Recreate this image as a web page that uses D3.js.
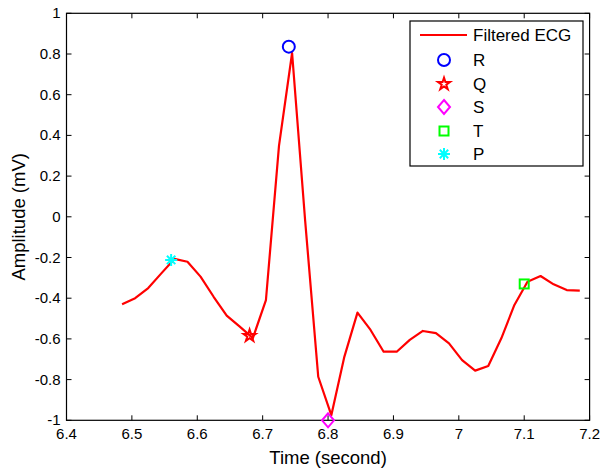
<!DOCTYPE html>
<html lang="en">
<head>
    <meta charset="UTF-8">
    <title>ECG</title>
    <script src="https://d3js.org/d3.v7.min.js"></script>
    <style>
        body { margin: 0; background: #fff; }
        svg text { font-family: Arial, "Liberation Sans", sans-serif; fill: #000; }
    </style>
</head>
<body>
<svg id="canvas" width="600" height="469"></svg>
<script>
    // filtered ECG samples (step 0.02 s)
    let t0 = 6.485;
    let ecgValues = [-0.43, -0.40, -0.35, -0.278, -0.207, -0.221, -0.294, -0.393, -0.486, -0.54,
        -0.596, -0.409, 0.35, 0.805, -0.02, -0.786, -0.975, -0.687, -0.471, -0.556,
        -0.663, -0.663, -0.605, -0.561, -0.572, -0.622, -0.704, -0.756, -0.733, -0.597,
        -0.433, -0.319, -0.291, -0.332, -0.36, -0.363];

    // detected waves
    let waveNames = ["R", "Q", "S", "T", "P"];
    let waveTimes = [6.74, 6.68, 6.80, 7.10, 6.56];
    let waveValues = [0.836, -0.585, -1.0, -0.33, -0.212];
    let waveColors = ["#0000ff", "#ff0000", "#ff00ff", "#00ff00", "#00ffff"];

    let xTicks = [6.4, 6.5, 6.6, 6.7, 6.8, 6.9, 7.0, 7.1, 7.2];
    let yTicks = [-1, -0.8, -0.6, -0.4, -0.2, 0, 0.2, 0.4, 0.6, 0.8, 1];

    let svg = d3.select('#canvas');
    let plotL = 66.5, plotR = 589.6, plotT = 13.3, plotB = 420.3;

    let x = d3.scaleLinear().domain([6.4, 7.2]).range([plotL, plotR]);
    let y = d3.scaleLinear().domain([-1, 1]).range([plotB, plotT]);

    let ecg = ecgValues.map(function (v, i) { return {t: t0 + 0.02 * i, v: v}; });

    // frame
    svg.append('rect')
        .attr('x', plotL).attr('y', plotT)
        .attr('width', plotR - plotL).attr('height', plotB - plotT)
        .attr('fill', 'none').attr('stroke', '#000').attr('stroke-width', 1.2);

    // ticks pointing inward, on all four sides
    let tickLen = 5;
    let fmt = function (d) { return String(+d.toFixed(1)); };
    let g = svg.append('g');
    xTicks.forEach(function (d) {
        g.append('line').attr('x1', x(d)).attr('x2', x(d)).attr('y1', plotB).attr('y2', plotB - tickLen).attr('stroke', '#000');
        g.append('line').attr('x1', x(d)).attr('x2', x(d)).attr('y1', plotT).attr('y2', plotT + tickLen).attr('stroke', '#000');
        g.append('text').attr('x', x(d)).attr('y', plotB + 19)
            .attr('text-anchor', 'middle').style('font-size', '15px').text(fmt(d));
    });
    yTicks.forEach(function (d) {
        g.append('line').attr('x1', plotL).attr('x2', plotL + tickLen).attr('y1', y(d)).attr('y2', y(d)).attr('stroke', '#000');
        g.append('line').attr('x1', plotR).attr('x2', plotR - tickLen).attr('y1', y(d)).attr('y2', y(d)).attr('stroke', '#000');
        g.append('text').attr('x', plotL - 6).attr('y', y(d) + 5)
            .attr('text-anchor', 'end').style('font-size', '15px').text(fmt(d));
    });

    svg.append('text').attr('x', (plotL + plotR) / 2).attr('y', 464)
        .attr('text-anchor', 'middle').style('font-size', '18.5px').text('Time (second)');
    svg.append('text')
        .attr('transform', 'translate(25,' + ((plotT + plotB) / 2) + ') rotate(-90)')
        .attr('text-anchor', 'middle').style('font-size', '18.5px').text('Amplitude (mV)');

    // signal
    let line = d3.line().x(function (d) { return x(d.t); }).y(function (d) { return y(d.v); });
    svg.append('path').datum(ecg)
        .attr('d', line)
        .attr('fill', 'none').attr('stroke', '#ff0000').attr('stroke-width', 2.2)
        .attr('stroke-linejoin', 'round');

    // marker shapes, matlab style
    function drawMarker(sel, name, cx, cy, color) {
        let m = sel.append('g').attr('transform', 'translate(' + cx + ',' + cy + ')');
        if (name === 'R') {
            m.append('circle').attr('r', 6).attr('fill', 'none').attr('stroke', color).attr('stroke-width', 2);
        } else if (name === 'Q') {
            m.append('path').attr('d', d3.symbol(d3.symbolStar, 45)())
                .attr('fill', 'none').attr('stroke', color).attr('stroke-width', 2);
        } else if (name === 'S') {
            m.append('path').attr('d', 'M0,-7L6,0L0,7L-6,0Z')
                .attr('fill', 'none').attr('stroke', color).attr('stroke-width', 2);
        } else if (name === 'T') {
            m.append('rect').attr('x', -4.5).attr('y', -4.5).attr('width', 9).attr('height', 9)
                .attr('fill', 'none').attr('stroke', color).attr('stroke-width', 2);
        } else {
            m.append('path').attr('d', 'M-6,0H6M0,-6V6M-4.2,-4.2L4.2,4.2M-4.2,4.2L4.2,-4.2')
                .attr('fill', 'none').attr('stroke', color).attr('stroke-width', 2);
        }
    }

    waveNames.forEach(function (n, i) {
        drawMarker(svg, n, x(waveTimes[i]), y(waveValues[i]), waveColors[i]);
    });

    // legend
    let lx = 410, ly = 21, lw = 173, lh = 145;
    let leg = svg.append('g');
    leg.append('rect').attr('x', lx).attr('y', ly).attr('width', lw).attr('height', lh)
        .attr('fill', '#fff').attr('stroke', '#000').attr('stroke-width', 1.2);
    let rowY = [35, 60, 84, 107, 131, 154];
    leg.append('line').attr('x1', 420).attr('x2', 467).attr('y1', rowY[0]).attr('y2', rowY[0])
        .attr('stroke', '#ff0000').attr('stroke-width', 2.2);
    leg.append('text').attr('x', 473).attr('y', rowY[0] + 6).style('font-size', '17px').text('Filtered ECG');
    waveNames.forEach(function (n, i) {
        drawMarker(leg, n, 444, rowY[i + 1], waveColors[i]);
        leg.append('text').attr('x', 473).attr('y', rowY[i + 1] + 6).style('font-size', '17px').text(n);
    });
</script>
</body>
</html>
